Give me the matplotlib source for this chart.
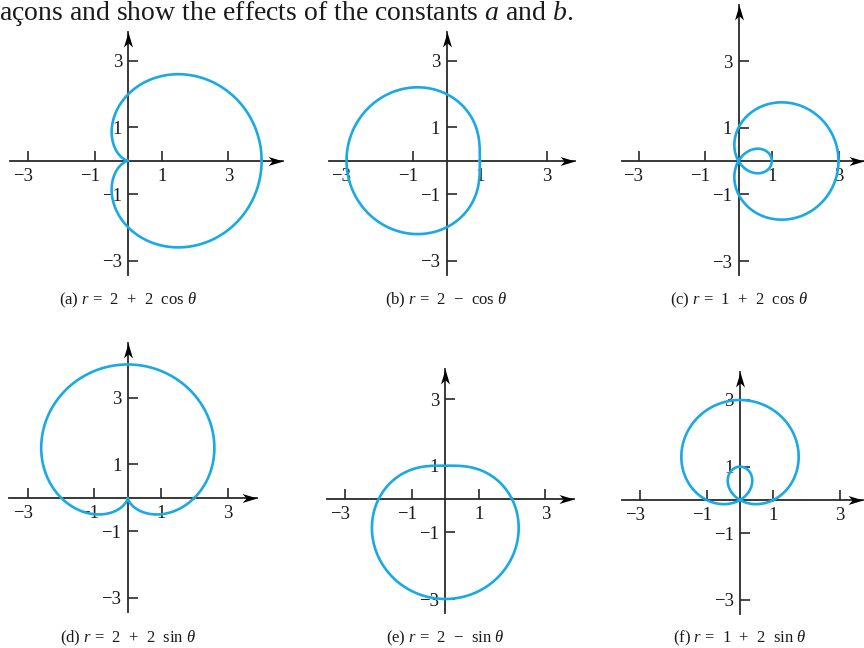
import numpy as np
import matplotlib
matplotlib.use("Agg")
from matplotlib import pyplot as plt
from matplotlib.path import Path
from matplotlib.transforms import ScaledTranslation

plt.rcParams['font.family'] = ['Liberation Serif', 'DejaVu Serif']
plt.rcParams['mathtext.fontset'] = 'custom'
plt.rcParams['mathtext.rm'] = 'Liberation Serif'
plt.rcParams['mathtext.it'] = 'Liberation Serif:italic'
plt.rcParams['mathtext.bf'] = 'Liberation Serif:bold'

# limacons r = a + b*trig(theta)
tags = ["(a)", "(b)", "(c)", "(d)", "(e)", "(f)"]
a_vals = [2, 2, 1, 2, 2, 1]
b_vals = [2, -1, 2, 2, -1, 2]
trig = ["cos", "cos", "cos", "sin", "sin", "sin"]
ticks = [-3, -1, 1, 3]
tick_labels = ["\u22123", "\u22121", "1", "3"]

W, H = 864, 648
S = 100 / 3.0  # pixels per unit
BLUE = '#1aa9e2'
INK = '#2a2a2a'

# origin (px from top-left), x-axis extent, y-axis extent in units
layout = [
    ((128.3, 160.8), (-3.55, 4.64), (-3.44, 3.87)),
    ((446.5, 160.7), (-3.53, 3.85), (-3.43, 3.86)),
    ((738.5, 161.0), (-3.50, 3.75), (-3.42, 4.68)),
    ((127.8, 497.8), (-3.55, 3.88), (-3.42, 4.64)),
    ((445.3, 499.0), (-3.56, 3.86), (-3.43, 3.90)),
    ((740.0, 500.0), (-3.54, 3.69), (-3.42, 3.84)),
]
caption_y = [300, 300, 300, 638, 638, 638]

head_r = Path([(0, 0), (-1, 0.3), (-0.72, 0), (-1, -0.3), (0, 0)],
              [1, 2, 2, 2, 79])
head_u = Path([(0, 0), (0.3, -1), (0, -0.72), (-0.3, -1), (0, 0)],
              [1, 2, 2, 2, 79])

fig = plt.figure(figsize=(W / 100, H / 100), dpi=100)
# negative x labels hang the minus sign to the left of the tick
neg_shift = ScaledTranslation(-5 / 100, 0, fig.dpi_scale_trans)

theta = np.linspace(0, 2 * np.pi, 1200)
sp = "\u2002"

for i in range(6):
    (ox, oy), (x0, x1), (y0, y1) = layout[i]
    left = (ox + x0 * S) / W
    bottom = 1 - (oy - y0 * S) / H
    ax = fig.add_axes([left, bottom, (x1 - x0) * S / W, (y1 - y0) * S / H])
    ax.set_facecolor('none')
    ax.set_xlim(x0, x1)
    ax.set_ylim(y0, y1)

    f = np.cos if trig[i] == "cos" else np.sin
    r = a_vals[i] + b_vals[i] * f(theta)
    ax.plot(r * np.cos(theta), r * np.sin(theta), color=BLUE, lw=1.9,
            clip_on=False, zorder=3)

    for side in ['top', 'right']:
        ax.spines[side].set_visible(False)
    for side in ['left', 'bottom']:
        ax.spines[side].set_position(('data', 0))
        ax.spines[side].set_color(INK)
        ax.spines[side].set_linewidth(1.3)
        ax.spines[side].set_zorder(2)

    ax.set_xticks(ticks)
    ax.set_xticklabels(tick_labels)
    ax.set_yticks(ticks)
    ax.set_yticklabels(tick_labels)
    ax.tick_params(direction='in', length=7, width=1.2, color=INK,
                   labelsize=13.5, labelcolor='#1a1a1a')
    ax.tick_params(axis='x', pad=5)
    ax.tick_params(axis='y', pad=4.5)
    for val, lab in zip(ticks, ax.get_xticklabels()):
        if val < 0:
            lab.set_transform(lab.get_transform() + neg_shift)

    ax.plot(x1, 0, marker=head_r, ms=21.6, color='black', mew=0,
            clip_on=False, zorder=4)
    ax.plot(0, y1, marker=head_u, ms=21.6, color='black', mew=0,
            clip_on=False, zorder=4)

    sign = "+" if b_vals[i] > 0 else "\u2212"
    coef = "" if abs(b_vals[i]) == 1 else "%d%s" % (abs(b_vals[i]), sp)
    cap = "%s $r$ =%s%d%s%s%s%s%s $\\theta$" % (
        tags[i], sp, a_vals[i], sp, sign, sp, coef, trig[i])
    fig.text(ox / W, 1 - caption_y[i] / H, cap, ha='center', va='center',
             fontsize=12, color='#1a1a1a')

fig.text(-1 / W, 1 - 20 / H,
         "a\u00e7ons and show the effects of the constants $a$ and $b$.",
         ha='left', va='baseline', fontsize=20, color='#1a1a1a')

fig.savefig("out.png", dpi=100)
